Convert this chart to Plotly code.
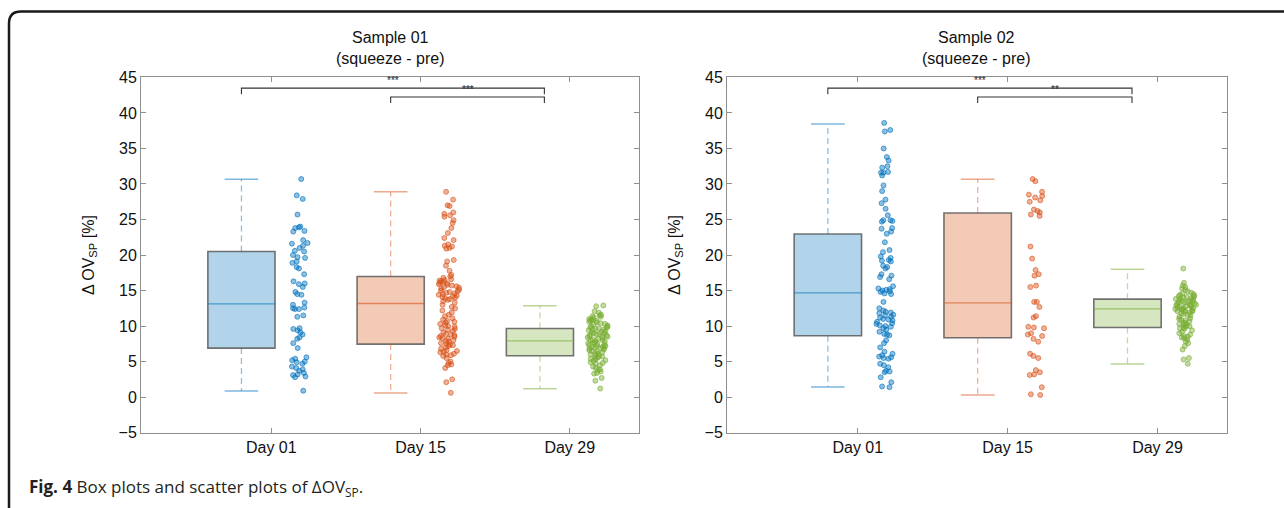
import plotly.graph_objects as go

# ---------------- data ----------------
categories = ["Day 01", "Day 15", "Day 29"]
panel_titles = ["Sample 01<br>(squeeze - pre)", "Sample 02<br>(squeeze - pre)"]
y_tick_values = [-5, 0, 5, 10, 15, 20, 25, 30, 35, 40, 45]

# box statistics (lower whisker, q1, median, q3, upper whisker) per day
s1_low = [0.85, 0.57, 1.18]
s1_q1 = [6.9, 7.46, 5.82]
s1_median = [13.13, 13.18, 7.93]
s1_q3 = [20.49, 16.97, 9.66]
s1_high = [30.66, 28.92, 12.85]

s2_low = [1.42, 0.29, 4.65]
s2_q1 = [8.63, 8.35, 9.8]
s2_median = [14.68, 13.27, 12.43]
s2_q3 = [22.97, 25.92, 13.79]
s2_high = [38.45, 30.66, 18.0]

# individual measurements
s1_day01 = [30.7, 28.4, 27.9, 25.7, 24.0, 23.9, 23.8, 23.4, 23.3, 22.1, 21.7, 21.6,
            21.3, 21.0, 20.6, 20.5, 20.0, 19.7, 19.6, 19.1, 18.9, 18.3, 18.1, 17.3,
            16.3, 16.0, 15.9, 15.5, 14.8, 14.5, 14.4, 13.3, 13.0, 12.6, 12.5, 12.4,
            12.4, 11.5, 11.3, 9.7, 9.6, 9.4, 9.1, 8.8, 8.4, 8.2, 7.6, 6.9, 5.6, 5.4,
            5.2, 5.0, 4.9, 4.7, 4.3, 4.1, 3.9, 3.7, 3.4, 3.1, 2.9, 2.8, 3.2, 0.9]
s1_day15 = [28.9, 27.8, 27.0, 26.9, 26.0, 25.8, 25.6, 25.4, 24.9, 24.5, 23.8, 23.1,
            22.4, 22.1, 21.5, 21.3, 21.2, 21.0, 20.9, 19.3, 19.1, 18.5, 17.8, 17.2,
            17.0, 16.8, 16.6, 16.5, 16.4, 16.3, 16.2, 16.1, 16.0, 15.9, 15.8, 15.7,
            15.6, 15.5, 15.4, 15.3, 15.1, 15.0, 14.9, 14.8, 14.7, 14.6, 14.5, 14.4,
            14.3, 14.2, 14.1, 14.0, 13.9, 13.8, 13.7, 13.5, 13.3, 13.0, 12.7, 12.5,
            12.2, 11.9, 11.6, 11.4, 11.1, 10.9, 10.7, 10.6, 10.5, 10.3, 10.1, 10.0,
            9.9, 9.7, 9.6, 9.5, 9.3, 9.1, 8.9, 8.8, 8.7, 8.6, 8.5, 8.4, 8.3, 8.2,
            8.0, 7.9, 7.8, 7.6, 7.5, 7.4, 7.3, 7.2, 7.0, 6.8, 6.6, 6.5, 6.4, 6.3,
            6.1, 6.0, 5.9, 5.8, 5.5, 5.0, 4.8, 4.6, 4.5, 4.1, 2.5, 2.1, 0.6]
s1_day29 = [12.9, 12.8, 12.1, 11.9, 11.6, 11.5, 11.4, 11.3, 11.2, 11.0, 10.9, 10.9,
            10.8, 10.7, 10.6, 10.5, 10.4, 10.3, 10.2, 10.1, 10.0, 9.9, 9.8, 9.8,
            9.7, 9.6, 9.5, 9.5, 9.4, 9.3, 9.2, 9.1, 9.0, 9.0, 8.9, 8.8, 8.7, 8.7,
            8.6, 8.5, 8.5, 8.4, 8.3, 8.2, 8.1, 8.0, 8.0, 7.9, 7.8, 7.7, 7.6, 7.6,
            7.5, 7.4, 7.3, 7.2, 7.2, 7.1, 7.0, 7.0, 6.9, 6.9, 6.8, 6.7, 6.6, 6.5,
            6.4, 6.3, 6.2, 6.1, 6.0, 5.9, 5.8, 5.7, 5.6, 5.5, 5.4, 5.3, 5.2, 5.1,
            4.9, 4.8, 4.7, 4.5, 4.3, 4.1, 3.9, 3.8, 3.6, 3.4, 3.3, 2.7, 2.3, 1.2]

s2_day01 = [38.6, 37.6, 37.4, 35.0, 33.8, 33.3, 32.5, 32.3, 31.7, 31.6, 31.6, 31.2,
            29.8, 29.0, 27.8, 27.3, 26.5, 25.6, 24.9, 24.8, 24.9, 24.7, 23.8, 23.7,
            23.3, 23.0, 21.8, 20.7, 20.4, 19.8, 19.6, 19.3, 19.2, 19.1, 18.5, 18.3,
            18.1, 17.3, 17.1, 16.9, 16.6, 15.6, 15.3, 15.2, 15.1, 15.0, 14.9, 14.8,
            14.6, 14.5, 13.4, 12.5, 12.2, 12.0, 11.9, 11.8, 11.6, 11.5, 11.3, 11.2,
            11.0, 10.9, 10.8, 10.6, 10.4, 10.3, 10.1, 10.0, 9.9, 9.7, 9.5, 9.2, 8.9,
            8.8, 8.7, 8.0, 7.6, 7.0, 6.4, 6.1, 5.9, 5.7, 5.6, 5.5, 5.4, 4.7, 4.5,
            4.2, 3.7, 3.6, 3.5, 2.8, 2.1, 1.5, 1.4]
s2_day15 = [30.7, 30.4, 28.9, 28.5, 28.3, 28.1, 27.7, 27.5, 26.4, 26.2, 26.0, 25.7,
            25.5, 21.2, 19.5, 17.9, 17.3, 17.1, 15.7, 15.5, 13.4, 13.4, 12.7, 11.4,
            11.2, 9.9, 9.8, 9.7, 9.0, 8.8, 8.6, 8.2, 7.8, 6.1, 5.8, 5.5, 3.8, 3.5,
            3.2, 3.1, 1.4, 0.4, 0.3]
s2_day29 = [18.1, 16.1, 15.7, 15.5, 15.3, 15.1, 14.9, 14.7, 14.6, 14.5, 14.4, 14.3,
            14.2, 14.1, 14.1, 14.0, 13.9, 13.9, 13.8, 13.7, 13.6, 13.6, 13.5, 13.5,
            13.4, 13.3, 13.3, 13.2, 13.1, 13.0, 13.0, 12.9, 12.9, 12.8, 12.7, 12.7,
            12.6, 12.5, 12.5, 12.4, 12.4, 12.3, 12.2, 12.2, 12.1, 12.1, 12.0, 11.9,
            11.8, 11.7, 11.6, 11.5, 11.3, 11.1, 11.0, 10.9, 10.8, 10.7, 10.5, 10.4,
            10.3, 10.2, 10.1, 10.0, 9.9, 9.8, 9.7, 9.6, 9.4, 9.2, 9.0, 8.8, 8.6,
            8.5, 8.4, 8.3, 8.1, 7.8, 7.6, 7.2, 6.7, 5.5, 5.3, 4.7]

# significance brackets: (from category, to category, label)
s1_sig = [(0, 2, "***"), (1, 2, "***")]
s2_sig = [(0, 2, "***"), (1, 2, "**")]

# ---------------- styling ----------------
W, H = 1284, 508
Y_SCALE, Y_SHIFT = 0.966, 7.6   # compensation for the vertical mapping of the capture
FONT = "Liberation Sans, Arial, Helvetica, sans-serif"
line_rgb = [(0, 114, 189), (217, 83, 25), (119, 172, 48)]
box_fill = ["#b2d4ea", "#f3cab6", "#d6e6c1"]
box_edge = "rgba(90,90,90,0.85)"
axis_color = "#8f8f8f"

box_off, pts_off, box_w = -0.2, 0.19, 0.45
x_range = [0.127, 3.464]
y_range = [-5, 45]
domains_px = [(141, 639), (727, 1227)]
plot_top_px, plot_bot_px = 77, 432


def rgba(c, a):
    return "rgba(%d,%d,%d,%.2f)" % (c[0], c[1], c[2], a)


def px_x(p):
    return p / W


def px_y(p):
    f = (p - Y_SHIFT) / Y_SCALE
    return 1 - f / H


panels = [
    dict(low=s1_low, q1=s1_q1, med=s1_median, q3=s1_q3, high=s1_high,
         pts=[s1_day01, s1_day15, s1_day29], sig=s1_sig),
    dict(low=s2_low, q1=s2_q1, med=s2_median, q3=s2_q3, high=s2_high,
         pts=[s2_day01, s2_day15, s2_day29], sig=s2_sig),
]

fig = go.Figure()
annotations = []
shapes = []

for pi, pdat in enumerate(panels):
    xa = "x" if pi == 0 else "x2"
    ya = "y" if pi == 0 else "y2"
    # boxes (bars with base at q1)
    for ci in range(3):
        pos = ci + 1 + box_off
        fig.add_trace(go.Bar(
            x=[pos], y=[pdat["q3"][ci] - pdat["q1"][ci]], base=[pdat["q1"][ci]],
            width=box_w, marker=dict(color=box_fill[ci], line=dict(color=box_edge, width=1.6)),
            xaxis=xa, yaxis=ya, showlegend=False, hoverinfo="skip"))
    for ci in range(3):
        pos = ci + 1 + box_off
        c = line_rgb[ci]
        # whiskers (dashed)
        fig.add_trace(go.Scatter(
            x=[pos, pos, None, pos, pos],
            y=[pdat["q3"][ci], pdat["high"][ci], None, pdat["q1"][ci], pdat["low"][ci]],
            mode="lines", line=dict(color=rgba(c, 0.45), width=1.3, dash="6px,4px"),
            xaxis=xa, yaxis=ya, showlegend=False, hoverinfo="skip"))
        # caps
        hw = box_w / 4
        fig.add_trace(go.Scatter(
            x=[pos - hw, pos + hw, None, pos - hw, pos + hw],
            y=[pdat["high"][ci], pdat["high"][ci], None, pdat["low"][ci], pdat["low"][ci]],
            mode="lines", line=dict(color=rgba(c, 0.5), width=1.5),
            xaxis=xa, yaxis=ya, showlegend=False, hoverinfo="skip"))
        # median
        fig.add_trace(go.Scatter(
            x=[pos - box_w / 2, pos + box_w / 2], y=[pdat["med"][ci]] * 2,
            mode="lines", line=dict(color=rgba(c, 0.6), width=1.3),
            xaxis=xa, yaxis=ya, showlegend=False, hoverinfo="skip"))
    # scatter points, jittered by plotly's box-points
    for ci in range(3):
        c = line_rgb[ci]
        fig.add_trace(go.Box(
            y=pdat["pts"][ci], x0=ci + 1 + pts_off, width=box_w,
            boxpoints="all", jitter=0.32, pointpos=0,
            fillcolor="rgba(0,0,0,0)", line=dict(color="rgba(0,0,0,0)", width=0),
            marker=dict(size=5, color=rgba(c, 0.45), line=dict(color=rgba(c, 0.75), width=0.8)),
            xaxis=xa, yaxis=ya, showlegend=False, hoverinfo="y"))
    # significance brackets
    for k, (a, b, lab) in enumerate(pdat["sig"]):
        xa0 = a + 1 + box_off
        xb0 = b + 1 - 0.17
        ytop = 43.5 - 1.25 * k
        ybot = ytop - 0.85
        fig.add_trace(go.Scatter(
            x=[xa0, xa0, xb0, xb0], y=[ybot, ytop, ytop, ybot], mode="lines",
            line=dict(color="#333333", width=1.1), xaxis=xa, yaxis=ya,
            showlegend=False, hoverinfo="skip"))
        annotations.append(dict(x=(xa0 + xb0) / 2, y=ytop + 0.05, xref=xa, yref=ya,
                                text=lab, showarrow=False, xanchor="center", yanchor="bottom",
                                font=dict(size=10, color="#222222", family=FONT)))
    # panel title
    d0, d1 = domains_px[pi]
    annotations.append(dict(x=px_x((d0 + d1) / 2), y=px_y(48), xref="paper", yref="paper",
                            text=panel_titles[pi], showarrow=False,
                            xanchor="center", yanchor="middle",
                            font=dict(size=16, color="#111111", family=FONT)))
    # y axis title
    annotations.append(dict(x=px_x(d0 - 52), y=px_y((plot_top_px + plot_bot_px) / 2),
                            xref="paper", yref="paper", text="Δ OV<sub>SP</sub> [%]",
                            textangle=-90, showarrow=False,
                            xanchor="center", yanchor="middle",
                            font=dict(size=16, color="#111111", family=FONT)))

# caption
annotations.append(dict(x=px_x(27), y=px_y(487), xref="paper", yref="paper",
                        xanchor="left", yanchor="middle", showarrow=False,
                        text="<b>Fig. 4</b> Box plots and scatter plots of ΔOV<sub>SP</sub>.",
                        font=dict(size=17, color="#231f20", family="Open Sans, sans-serif")))

# rounded frame (top + left edges)
shapes.append(dict(type="path", xref="paper", yref="paper",
                   path="M %f,%f L %f,%f Q %f,%f %f,%f L %f,%f" % (
                       px_x(9), px_y(540), px_x(9), px_y(23), px_x(9), px_y(11),
                       px_x(21), px_y(11), px_x(1290), px_y(11)),
                   line=dict(color="#1a1a1a", width=2.5)))

axis_common = dict(showline=True, linecolor=axis_color, linewidth=1, mirror="allticks",
                   ticks="inside", ticklen=5, tickcolor=axis_color, showgrid=False,
                   zeroline=False, tickfont=dict(size=16, color="#111111", family=FONT))

layout = dict(
    width=W, height=H, margin=dict(l=0, r=0, t=0, b=0),
    paper_bgcolor="white", plot_bgcolor="white",
    barmode="overlay", boxmode="overlay", showlegend=False,
    annotations=annotations, shapes=shapes,
)
for pi in range(2):
    d0, d1 = domains_px[pi]
    xk = "xaxis" if pi == 0 else "xaxis2"
    yk = "yaxis" if pi == 0 else "yaxis2"
    layout[xk] = dict(axis_common, domain=[px_x(d0), px_x(d1)], range=x_range,
                      tickvals=[1, 2, 3], ticktext=categories,
                      anchor="y" if pi == 0 else "y2")
    layout[yk] = dict(axis_common, domain=[px_y(plot_bot_px), px_y(plot_top_px)],
                      range=y_range, tickvals=y_tick_values,
                      anchor="x" if pi == 0 else "x2")

fig.update_layout(**layout)

pin_js = ("document.documentElement.style.overflow='hidden';"
          "document.body.style.margin='0';document.body.style.overflow='hidden';"
          "var gd=document.getElementById('{plot_id}');"
          "gd.style.position='fixed';gd.style.left='0px';gd.style.top='0px';")
fig.write_html("out.html", config={"displayModeBar": False}, post_script=pin_js)
